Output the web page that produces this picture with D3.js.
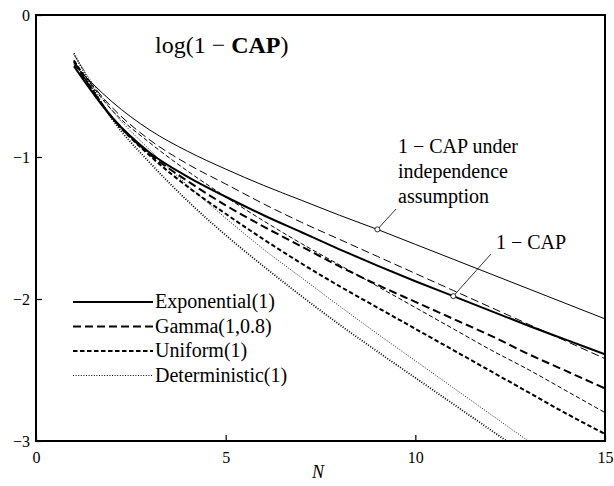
<!DOCTYPE html>
<html><head><meta charset="utf-8">
<script src="https://cdn.jsdelivr.net/npm/d3@7"></script>
<style>body{margin:0;background:#fff}svg{display:block}text{font-family:"Liberation Serif","DejaVu Serif",serif;fill:#000}</style>
</head><body><svg id="c" width="614" height="486"></svg>
<script>
const N = [1,2,3,4,5,6,7,8,9,10,11,12,13,14,15];
// thick = 1 - CAP, thin = 1 - CAP under independence assumption
const expCAP   = [-0.36,-0.72,-0.97,-1.14,-1.28,-1.41,-1.53,-1.65,-1.765,-1.875,-1.98,-2.085,-2.19,-2.29,-2.39];
const expInd   = [-0.35,-0.61,-0.81,-0.96,-1.085,-1.20,-1.305,-1.41,-1.51,-1.615,-1.72,-1.825,-1.93,-2.035,-2.14];
const gamCAP   = [-0.33,-0.72,-0.98,-1.17,-1.34,-1.49,-1.63,-1.77,-1.90,-2.02,-2.14,-2.26,-2.39,-2.51,-2.63];
const gamInd   = [-0.33,-0.65,-0.88,-1.05,-1.19,-1.33,-1.46,-1.58,-1.70,-1.82,-1.94,-2.06,-2.18,-2.30,-2.42];
const uniCAP   = [-0.32,-0.72,-0.99,-1.21,-1.40,-1.58,-1.75,-1.91,-2.06,-2.21,-2.36,-2.51,-2.66,-2.81,-2.95];
const uniInd   = [-0.32,-0.67,-0.90,-1.10,-1.28,-1.45,-1.61,-1.76,-1.91,-2.06,-2.21,-2.36,-2.50,-2.65,-2.80];
const detCAP   = [-0.27,-0.73,-1.04,-1.31,-1.55,-1.77,-1.98,-2.18,-2.37,-2.555,-2.74,-2.925,-3.11,-3.30,-3.49];
const detInd   = [-0.28,-0.67,-0.95,-1.20,-1.43,-1.65,-1.85,-2.05,-2.245,-2.435,-2.625,-2.815,-3.005,-3.195,-3.385];
const xTicks = [0,5,10,15];
const yTicks = [0,-1,-2,-3];
const legendLabels = ["Exponential(1)","Gamma(1,0.8)","Uniform(1)","Deterministic(1)"];

const L=36,R=605,T=15,B=441;
const svg=d3.select("#c");
const x=d3.scaleLinear().domain([0,15]).range([L,R]);
const y=d3.scaleLinear().domain([-3,0]).range([B,T]);

svg.append("defs").append("clipPath").attr("id","clip").append("rect")
  .attr("x",L).attr("y",T).attr("width",R-L).attr("height",B-T);

const dashes=[null,"8,4","4.5,2.5","1,1.6"];
const series=[
  {v:expInd,d:0,w:1},{v:gamInd,d:1,w:1},{v:uniInd,d:2,w:1},{v:detInd,d:3,w:0.9},
  {v:expCAP,d:0,w:2},{v:gamCAP,d:1,w:2},{v:uniCAP,d:2,w:2},{v:detCAP,d:3,w:1.8}
];
const line=d3.line().x((d,i)=>x(N[i])).y(d=>y(d)).curve(d3.curveMonotoneX);
const g=svg.append("g").attr("clip-path","url(#clip)");
series.forEach(s=>{
  g.append("path").attr("d",line(s.v)).attr("fill","none").attr("stroke","#000")
   .attr("stroke-width",s.w).attr("stroke-dasharray",dashes[s.d]);
});

// axes
const xa=d3.axisBottom(x).tickValues(xTicks).tickSize(-6).tickPadding(10).tickFormat(d3.format("d"));
const ya=d3.axisLeft(y).tickValues(yTicks).tickSize(-6).tickPadding(6).tickFormat(d=>d<0?"\u2212"+Math.abs(d):d);
const gx=svg.append("g").attr("transform",`translate(0,${B})`).call(xa);
const gy=svg.append("g").attr("transform",`translate(${L},0)`).call(ya);
[gx,gy].forEach(a=>{a.select(".domain").remove();a.selectAll("line").attr("stroke","#000").attr("stroke-width",1.2);
  a.selectAll("text").style("font-family","'Liberation Serif',serif").style("font-size","16px").attr("fill","#000");});
gx.selectAll("text").attr("dy","0.75em");
svg.append("rect").attr("x",L).attr("y",T).attr("width",R-L).attr("height",B-T)
  .attr("fill","none").attr("stroke","#000").attr("stroke-width",2);

svg.append("text").attr("x",318).attr("y",478).attr("text-anchor","middle")
  .style("font-size","18px").style("font-style","italic").text("N");

// title
const t=svg.append("text").attr("x",155).attr("y",53).style("font-size","24px");
t.append("tspan").text("log(1 \u2212 ");
t.append("tspan").style("font-weight","bold").text("CAP");
t.append("tspan").text(")");

// annotations
const m1=[x(N[8]),y(expInd[8])], m2=[x(N[10]),y(expCAP[10])];
svg.append("line").attr("x1",m1[0]).attr("y1",m1[1]).attr("x2",396).attr("y2",209).attr("stroke","#000").attr("stroke-width",0.8);
svg.append("line").attr("x1",m2[0]).attr("y1",m2[1]).attr("x2",491).attr("y2",254).attr("stroke","#000").attr("stroke-width",0.8);
[m1,m2].forEach(m=>svg.append("circle").attr("cx",m[0]).attr("cy",m[1]).attr("r",2.5).attr("fill","#fff").attr("stroke","#000").attr("stroke-width",0.8));
["1 \u2212 CAP under","independence","assumption"].forEach((s,i)=>
  svg.append("text").attr("x",398).attr("y",153+i*25).style("font-size","20px").text(s));
svg.append("text").attr("x",496).attr("y",249).style("font-size","20px").text("1 \u2212 CAP");

// legend
const lg=svg.append("g");
legendLabels.forEach((s,i)=>{
  const yy=302+i*24.5;
  lg.append("line").attr("x1",73).attr("x2",153).attr("y1",yy).attr("y2",yy).attr("stroke","#000")
    .attr("stroke-width",i===3?1.2:1.8).attr("stroke-dasharray",dashes[i]);
  lg.append("text").attr("x",155).attr("y",yy+6).style("font-size","20px").text(s);
});
</script></body></html>
